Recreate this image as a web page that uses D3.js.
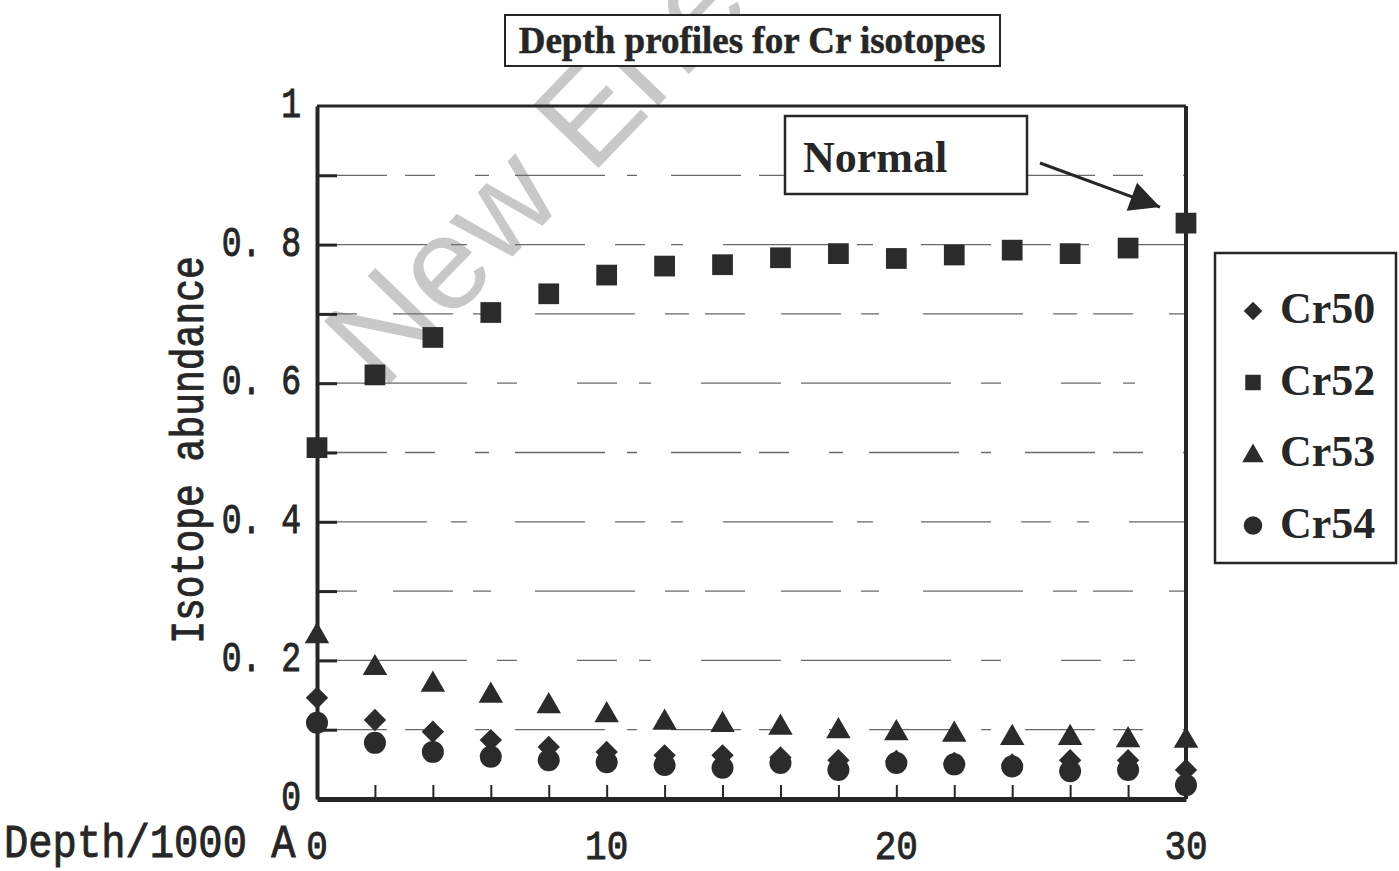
<!DOCTYPE html>
<html>
<head>
<meta charset="utf-8">
<script src="https://cdn.jsdelivr.net/npm/d3@7"></script>
<style>
  html, body { margin: 0; padding: 0; background: #fff; }
  svg { display: block; }
</style>
</head>
<body>
<svg id="chart" width="1399" height="871"></svg>
<script>
// Depth (in units of 1000 Å) of each sputtering step
const depth = [0, 2, 4, 6, 8, 10, 12, 14, 16, 18, 20, 22, 24, 26, 28, 30];

// Isotope abundance per depth step
const cr50 = [0.146, 0.114, 0.097, 0.085, 0.075, 0.068, 0.063, 0.063, 0.060, 0.056, 0.055, 0.052, 0.050, 0.056, 0.056, 0.042];
const cr52 = [0.507, 0.612, 0.666, 0.702, 0.729, 0.756, 0.769, 0.771, 0.781, 0.787, 0.780, 0.785, 0.792, 0.787, 0.795, 0.831];
const cr53 = [0.235, 0.189, 0.165, 0.149, 0.134, 0.121, 0.110, 0.107, 0.103, 0.098, 0.095, 0.093, 0.088, 0.088, 0.085, 0.084];
const cr54 = [0.110, 0.081, 0.068, 0.061, 0.056, 0.053, 0.049, 0.045, 0.052, 0.042, 0.052, 0.050, 0.047, 0.040, 0.042, 0.020];

const seriesNames = ["Cr50", "Cr52", "Cr53", "Cr54"];
const seriesValues = [cr50, cr52, cr53, cr54];

const xTickValues = [0, 10, 20, 30];
const xMinorTicks = depth;
const yTickValues = [0, 0.2, 0.4, 0.6, 0.8, 1];
const yTickLabels = ["0", "0. 2", "0. 4", "0. 6", "0. 8", "1"];
const yGridValues = [0.1, 0.2, 0.3, 0.4, 0.5, 0.6, 0.7, 0.8, 0.9];

const titleText = "Depth profiles for Cr isotopes";
const xTitle = "Depth/1000 A";
const yTitle = "Isotope abundance";
const noteText = "Normal";
const watermark = "New Energy";

const ink = "#262626";
const monoFont = "'Liberation Mono', 'Courier New', monospace";
const serifFont = "'Liberation Serif', 'Times New Roman', serif";

const svg = d3.select("#chart");

const x = d3.scaleLinear().domain([0, 30]).range([317, 1186]);
const y = d3.scaleLinear().domain([0, 1]).range([799, 106]);

// faint watermark behind everything
svg.append("text")
  .attr("transform", "translate(382,392) rotate(-46)")
  .attr("font-family", "'Liberation Sans', Arial, sans-serif")
  .attr("font-size", 132)
  .attr("fill", "#c8c8c8")
  .text(watermark);

// horizontal grid lines (broken, as printed)
const dashSets = [
  "70,18,30,40,14,26,90,22,10,34",
  "150,30,20,60,40,22,12,50,80,20",
  "40,36,60,20,18,44,100,30,24,16",
  "110,24,16,48,70,30,30,26,12,40"
];
svg.append("g")
  .selectAll("line")
  .data(yGridValues)
  .join("line")
  .attr("x1", x(0)).attr("x2", x(30))
  .attr("y1", d => y(d)).attr("y2", d => y(d))
  .attr("stroke", "#6a6a6a")
  .attr("stroke-width", 1.3)
  .attr("stroke-dasharray", (d, i) => dashSets[i % dashSets.length]);

// plot frame
svg.append("line").attr("x1", x(0)).attr("x2", x(30)).attr("y1", y(1)).attr("y2", y(1))
  .attr("stroke", ink).attr("stroke-width", 3);
svg.append("line").attr("x1", x(30)).attr("x2", x(30)).attr("y1", y(1)).attr("y2", y(0))
  .attr("stroke", ink).attr("stroke-width", 4);

// inward ticks on the axes
const xAxis = d3.axisBottom(x).tickValues(xMinorTicks).tickSizeInner(-14).tickSizeOuter(0).tickFormat("");
const yAxis = d3.axisLeft(y).tickValues(yGridValues).tickSizeInner(-20).tickSizeOuter(0).tickFormat("");

const gx = svg.append("g").attr("transform", `translate(0,${y(0)})`).call(xAxis);
gx.select(".domain").attr("stroke", ink).attr("stroke-width", 5);
gx.selectAll(".tick line").attr("stroke", ink).attr("stroke-width", 2);

const gy = svg.append("g").attr("transform", `translate(${x(0)},0)`).call(yAxis);
gy.select(".domain").attr("stroke", ink).attr("stroke-width", 4);
gy.selectAll(".tick line").attr("stroke", ink).attr("stroke-width", 3);

// tick labels, in a tall typewriter face
svg.append("g")
  .selectAll("g")
  .data(yTickValues)
  .join("g")
  .attr("transform", d => `translate(301,${y(d) + 11}) scale(1,1.3)`)
  .append("text")
  .attr("text-anchor", "end")
  .attr("font-family", monoFont)
  .attr("font-size", 33)
  .attr("fill", ink).attr("stroke", ink).attr("stroke-width", 0.8)
  .text((d, i) => yTickLabels[i]);

svg.append("g")
  .selectAll("g")
  .data(xTickValues)
  .join("g")
  .attr("transform", d => `translate(${x(d)},859) scale(1,1.15)`)
  .append("text")
  .attr("text-anchor", "middle")
  .attr("font-family", monoFont)
  .attr("font-size", 36)
  .attr("fill", ink).attr("stroke", ink).attr("stroke-width", 0.8)
  .text(d => d);

// axis titles
svg.append("g")
  .attr("transform", "translate(4,857) scale(1,1.12)")
  .append("text")
  .attr("font-family", monoFont)
  .attr("font-size", 40.5)
  .attr("fill", ink).attr("stroke", ink).attr("stroke-width", 0.8)
  .text(xTitle);

svg.append("g")
  .attr("transform", "translate(203,450) rotate(-90) scale(1,1.2)")
  .append("text")
  .attr("text-anchor", "middle")
  .attr("font-family", monoFont)
  .attr("font-size", 38)
  .attr("fill", ink).attr("stroke", ink).attr("stroke-width", 0.8)
  .text(yTitle);

// chart title in a box
svg.append("rect").attr("x", 505).attr("y", 15).attr("width", 495).attr("height", 51)
  .attr("fill", "#fff").attr("stroke", ink).attr("stroke-width", 2);
svg.append("text")
  .attr("x", 752).attr("y", 53)
  .attr("text-anchor", "middle")
  .attr("font-family", serifFont).attr("font-weight", "bold")
  .attr("font-size", 37)
  .attr("fill", ink).attr("stroke", ink).attr("stroke-width", 0.5)
  .text(titleText);

// marker shapes per series
const symbolFor = [
  { type: d3.symbolSquare, size: 250, rotate: 45 },   // Cr50 diamond
  { type: d3.symbolSquare, size: 430, rotate: 0 },    // Cr52 square
  { type: d3.symbolTriangle, size: 260, rotate: 0 },  // Cr53 triangle
  { type: d3.symbolCircle, size: 380, rotate: 0 }     // Cr54 circle
];

const drawOrder = [3, 0, 2, 1];
drawOrder.forEach(si => {
  const s = symbolFor[si];
  svg.append("g")
    .selectAll("path")
    .data(depth.map((d, i) => [d, seriesValues[si][i]]))
    .join("path")
    .attr("d", d3.symbol().type(s.type).size(s.size))
    .attr("transform", d => `translate(${x(d[0])},${y(d[1])}) rotate(${s.rotate})`)
    .attr("fill", "#2b2b2b");
});

// "Normal" call-out with its arrow to the last Cr52 point
svg.append("rect").attr("x", 785).attr("y", 116).attr("width", 242).attr("height", 78)
  .attr("fill", "#fff").attr("stroke", ink).attr("stroke-width", 2.5);
svg.append("text")
  .attr("x", 803).attr("y", 172)
  .attr("font-family", serifFont).attr("font-weight", "bold")
  .attr("font-size", 44)
  .attr("fill", ink)
  .text(noteText);

svg.append("defs").append("marker")
  .attr("id", "head")
  .attr("viewBox", "0 0 10 10")
  .attr("refX", 10).attr("refY", 5)
  .attr("markerWidth", 13).attr("markerHeight", 10)
  .attr("markerUnits", "strokeWidth")
  .attr("orient", "auto")
  .append("path").attr("d", "M0,0 L10,5 L0,10 Z").attr("fill", ink);

svg.append("line")
  .attr("x1", 1040).attr("y1", 163)
  .attr("x2", x(30) - 26).attr("y2", y(cr52[15]) - 16)
  .attr("stroke", ink).attr("stroke-width", 3)
  .attr("marker-end", "url(#head)");

// legend
svg.append("rect").attr("x", 1215).attr("y", 253).attr("width", 181).attr("height", 310)
  .attr("fill", "#fff").attr("stroke", ink).attr("stroke-width", 2.5);

const legendSymbols = [
  { type: d3.symbolSquare, size: 170, rotate: 45 },
  { type: d3.symbolSquare, size: 240, rotate: 0 },
  { type: d3.symbolTriangle, size: 200, rotate: 0 },
  { type: d3.symbolCircle, size: 270, rotate: 0 }
];

const legendRows = svg.append("g")
  .selectAll("g")
  .data(seriesNames)
  .join("g")
  .attr("transform", (d, i) => `translate(0,${311 + i * 71.5})`);

legendRows.append("path")
  .attr("d", (d, i) => d3.symbol().type(legendSymbols[i].type).size(legendSymbols[i].size)())
  .attr("transform", (d, i) => `translate(1253,${i === 2 ? 2 : 0}) rotate(${legendSymbols[i].rotate})`)
  .attr("fill", "#2b2b2b");

legendRows.append("text")
  .attr("x", 1280).attr("y", 12)
  .attr("font-family", serifFont).attr("font-weight", "bold")
  .attr("font-size", 44)
  .attr("fill", ink)
  .text(d => d);
</script>
</body>
</html>
